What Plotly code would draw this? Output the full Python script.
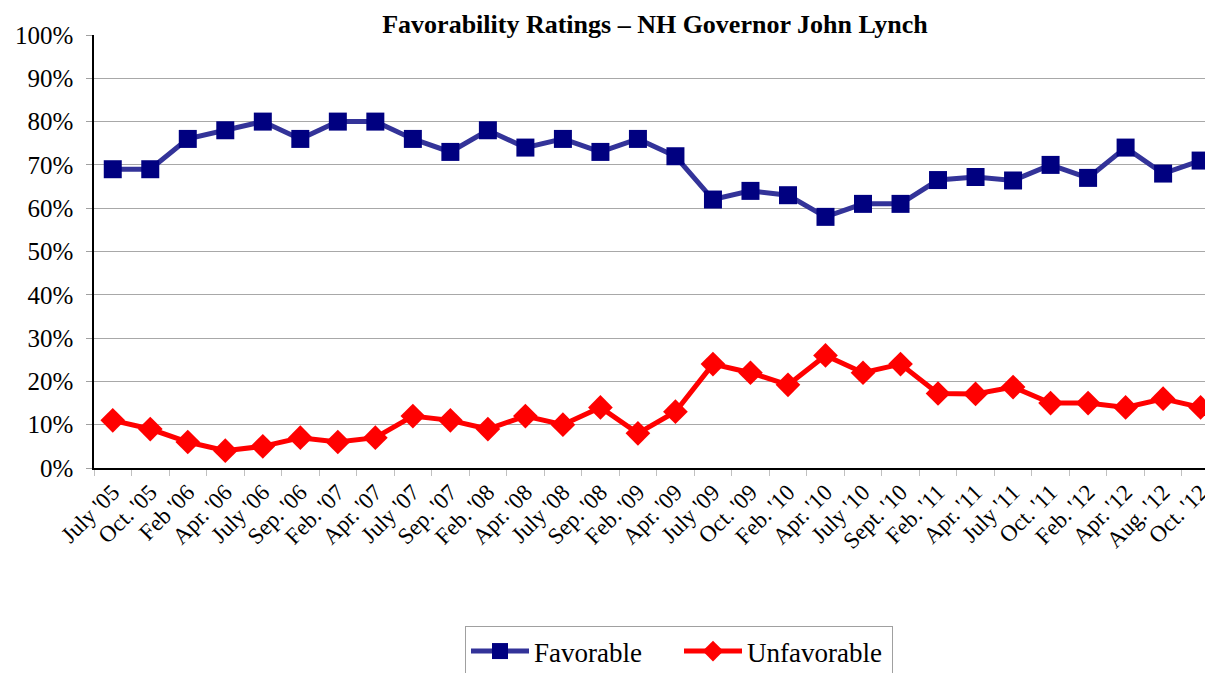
import plotly.graph_objects as go

categories = ["July '05", "Oct. '05", "Feb '06", "Apr. '06", "July '06", "Sep. '06",
              "Feb. '07", "Apr. '07", "July '07", "Sep. '07", "Feb. '08", "Apr. '08",
              "July '08", "Sep. '08", "Feb. '09", "Apr. '09", "July '09", "Oct. '09",
              "Feb. '10", "Apr. '10", "July '10", "Sept. '10", "Feb. '11", "Apr. '11",
              "July '11", "Oct. '11", "Feb. '12", "Apr. '12", "Aug. '12", "Oct. '12"]
favorable = [69, 69, 76, 78, 80, 76, 80, 80, 76, 73, 78, 74, 76, 73, 76, 72,
             62, 64, 63, 58, 61, 61, 66.5, 67.2, 66.4, 70, 67, 74, 68, 71]
unfavorable = [11, 9, 6, 4, 5, 7, 6, 7, 12, 11, 9, 12, 10, 14, 8, 13,
               24, 22, 19.2, 26, 22, 24, 17.2, 17.1, 18.7, 15, 15, 14, 16, 14]
y_ticks = [0, 10, 20, 30, 40, 50, 60, 70, 80, 90, 100]
y_labels = [f"{v}%" for v in y_ticks]

font_family = "Liberation Serif"

fig = go.Figure()
fig.add_trace(go.Scatter(
    x=categories, y=favorable, name="Favorable", mode="lines+markers",
    line=dict(color="#333399", width=5),
    marker=dict(symbol="square", size=18, color="#000080", line=dict(width=0)),
))
fig.add_trace(go.Scatter(
    x=categories, y=unfavorable, name="Unfavorable", mode="lines+markers",
    line=dict(color="#FF0000", width=5),
    marker=dict(symbol="diamond", size=19, color="#FF0000", line=dict(width=0)),
))

fig.update_layout(
    width=1205, height=665,
    margin=dict(l=86, r=0, t=27, b=205),
    paper_bgcolor="white", plot_bgcolor="white",
    font=dict(family=font_family, color="black", size=20),
    title=dict(text="<b>Favorability Ratings – NH Governor John Lynch</b>",
               x=(655 - 8) / 1205, xanchor="center", y=1 - 16 / 665, yanchor="middle",
               font=dict(size=26, family=font_family, color="black")),
    showlegend=True,
    legend=dict(orientation="h", xref="container", yref="container",
                x=(679 - 8) / 1205, xanchor="center", y=1 - 618 / 665, yanchor="top",
                bordercolor="#a0a0a0", borderwidth=1,
                font=dict(size=27, family=font_family, color="black"),
                entrywidth=140, itemwidth=58, tracegroupgap=0),
)
fig.update_xaxes(
    type="category", range=[-0.5, 29.33],
    showgrid=False, showline=True, linecolor="black", linewidth=1.5,
    ticks="outside", ticklen=6, tickcolor="#c0c0c0", tickson="boundaries",
    tickangle=-45, tickfont=dict(size=23, family=font_family, color="black"),
)
fig.update_yaxes(
    range=[0, 100], tickvals=y_ticks, ticktext=y_labels,
    showgrid=True, gridcolor="#a8a8a8", gridwidth=1,
    showline=True, linecolor="black", linewidth=1.5,
    ticks="outside", ticklen=6, tickcolor="#a0a0a0", ticklabelstandoff=8,
    tickfont=dict(size=25, family=font_family, color="black"), zeroline=False,
)

fig.write_html("out.html")
